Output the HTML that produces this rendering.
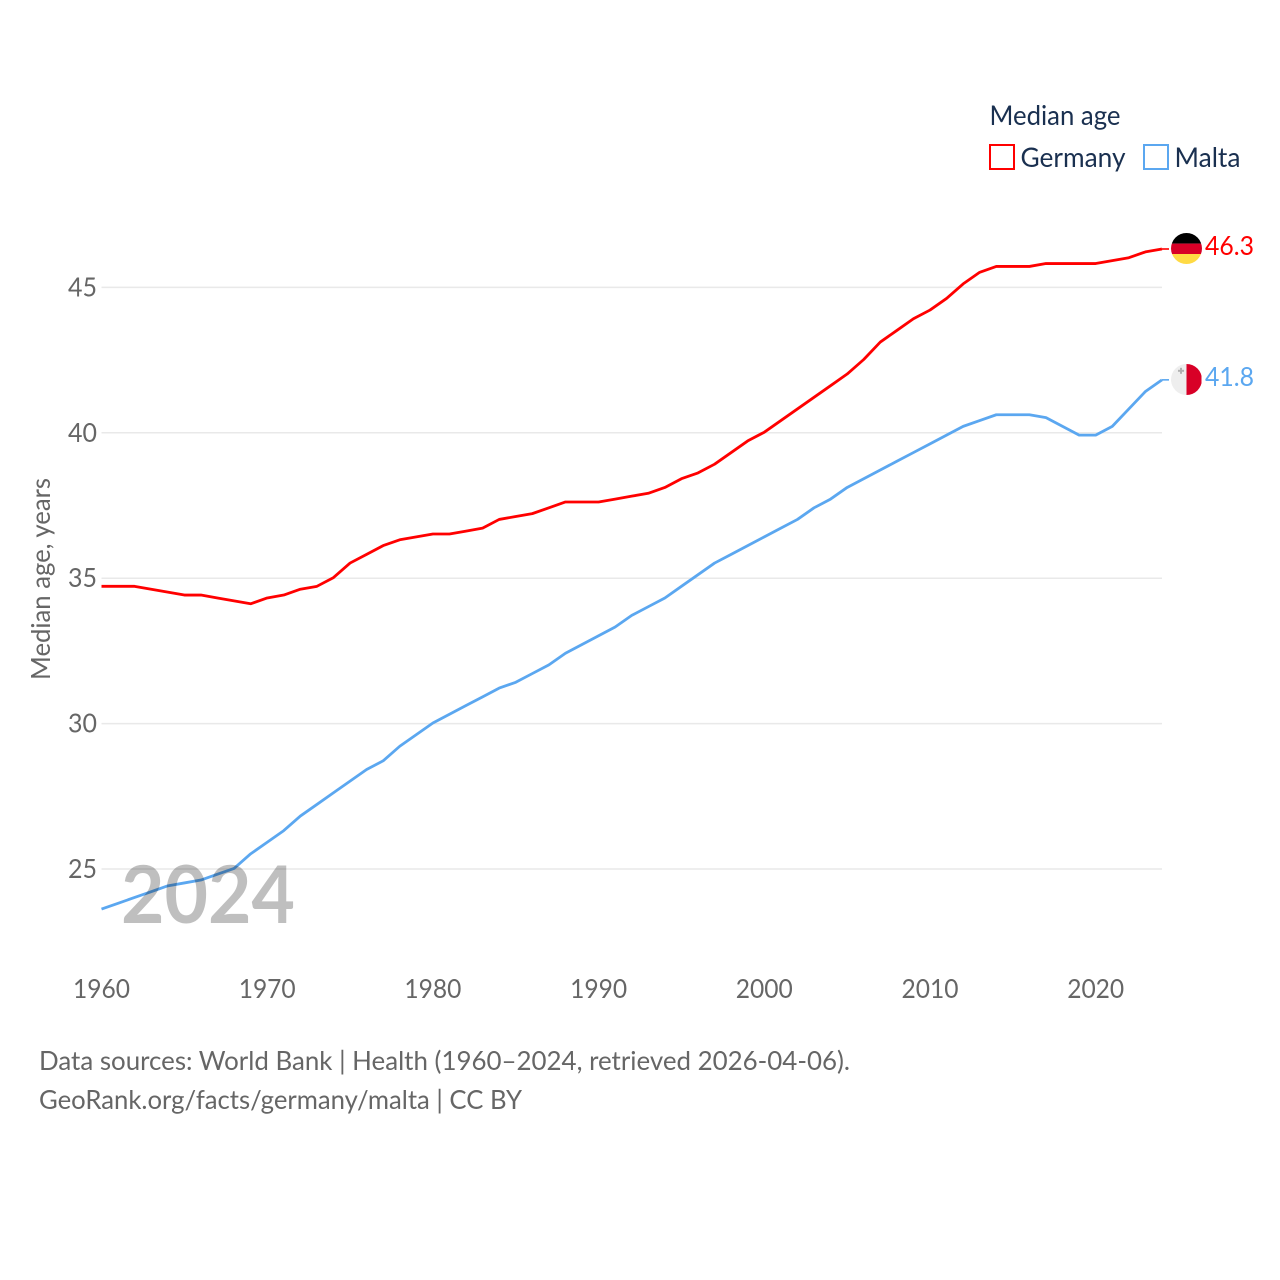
<!DOCTYPE html>
<html lang="en">
<head>
<meta charset="utf-8">
<title>Median age: Germany and Malta</title>
<style>
html,body{margin:0;padding:0;background:#fff;width:1280px;height:1280px;overflow:hidden}
svg{display:block}
text{font-family:"Lato","Carlito","Liberation Sans",sans-serif}
</style>
</head>
<body>
<svg id="chart" xmlns="http://www.w3.org/2000/svg" width="1280" height="1280" viewBox="0 0 1280 1280">
  <rect x="0" y="0" width="1280" height="1280" fill="#fff"/>
  <defs>
    <clipPath id="clip-de"><circle cx="1186.5" cy="248.5" r="15.5"/></clipPath>
    <clipPath id="clip-mt"><circle cx="1186.5" cy="379.5" r="15.5"/></clipPath>
  </defs>
  <g id="grid"></g>
  <g id="y-ticks"></g>
  <g id="x-ticks"></g>
  <text transform="translate(50,579) rotate(-90)" text-anchor="middle" font-size="26.5" fill="#666" textLength="202" lengthAdjust="spacingAndGlyphs">Median age, years</text>
  <g transform="translate(0,-0.6)">
    <polyline id="line-germany" fill="none" stroke="#ff0000" stroke-width="2.8" stroke-linejoin="round"/>
    <polyline id="line-malta" fill="none" stroke="#5ba7f0" stroke-width="2.8" stroke-linejoin="round"/>
    <line id="tail-germany" stroke="#ff0000" stroke-width="1.6"/>
    <line id="tail-malta" stroke="#5ba7f0" stroke-width="1.6"/>
  </g>
  <text x="121" y="923" font-size="80" font-weight="700" fill="#000" fill-opacity="0.25" textLength="174" lengthAdjust="spacingAndGlyphs">2024</text>

  <g clip-path="url(#clip-de)">
    <rect x="1171" y="233" width="31" height="10.6" fill="#000"/>
    <rect x="1171" y="243.6" width="31" height="10.4" fill="#d80027"/>
    <rect x="1171" y="254" width="31" height="11" fill="#ffda44"/>
  </g>
  <g clip-path="url(#clip-mt)">
    <rect x="1171" y="364" width="15.5" height="31" fill="#eeeeee"/>
    <rect x="1186.5" y="364" width="15" height="31" fill="#d80027"/>
    <rect x="1178" y="369.8" width="6" height="2" fill="#b0b0b0"/>
    <rect x="1180" y="367.8" width="2" height="6" fill="#b0b0b0"/>
  </g>
  <text id="value-germany" x="1205" y="255" font-size="26.5" fill="#ff0000" textLength="49" lengthAdjust="spacingAndGlyphs"></text>
  <text id="value-malta" x="1205" y="386" font-size="26.5" fill="#5ba7f0" textLength="49" lengthAdjust="spacingAndGlyphs"></text>

  <text x="989.5" y="125" font-size="27" fill="#1a3050" textLength="131" lengthAdjust="spacingAndGlyphs">Median age</text>
  <rect x="990" y="145" width="24" height="24" fill="#fff" stroke="#ff0000" stroke-width="2"/>
  <text x="1020.5" y="167" font-size="27" fill="#1a3050" textLength="105" lengthAdjust="spacingAndGlyphs">Germany</text>
  <rect x="1144" y="145" width="24" height="24" fill="#fff" stroke="#5ba7f0" stroke-width="2"/>
  <text x="1174.5" y="167" font-size="27" fill="#1a3050" textLength="66" lengthAdjust="spacingAndGlyphs">Malta</text>

  <text x="39" y="1070" font-size="26.5" fill="#666" textLength="811" lengthAdjust="spacingAndGlyphs">Data sources: World Bank | Health (1960–2024, retrieved 2026-04-06).</text>
  <text x="39" y="1109" font-size="26.5" fill="#666" textLength="483" lengthAdjust="spacingAndGlyphs">GeoRank.org/facts/germany/malta | CC BY</text>
</svg>
<script>
const startYear = 1960;
const germanyValues = [34.7,34.7,34.7,34.6,34.5,34.4,34.4,34.3,34.2,34.1,34.3,34.4,34.6,34.7,35.0,35.5,35.8,36.1,36.3,36.4,36.5,36.5,36.6,36.7,37.0,37.1,37.2,37.4,37.6,37.6,37.6,37.7,37.8,37.9,38.1,38.4,38.6,38.9,39.3,39.7,40.0,40.4,40.8,41.2,41.6,42.0,42.5,43.1,43.5,43.9,44.2,44.6,45.1,45.5,45.7,45.7,45.7,45.8,45.8,45.8,45.8,45.9,46.0,46.2,46.3];
const maltaValues = [23.6,23.8,24.0,24.2,24.4,24.5,24.6,24.8,25.0,25.5,25.9,26.3,26.8,27.2,27.6,28.0,28.4,28.7,29.2,29.6,30.0,30.3,30.6,30.9,31.2,31.4,31.7,32.0,32.4,32.7,33.0,33.3,33.7,34.0,34.3,34.7,35.1,35.5,35.8,36.1,36.4,36.7,37.0,37.4,37.7,38.1,38.4,38.7,39.0,39.3,39.6,39.9,40.2,40.4,40.6,40.6,40.6,40.5,40.2,39.9,39.9,40.2,40.8,41.4,41.8];
const yTickValues = [25,30,35,40,45];
const xTickValues = [1960,1970,1980,1990,2000,2010,2020];

const NS = 'http://www.w3.org/2000/svg';
function xScale(year){ return 101.5 + (year - 1960) * 16.57; }
function yScale(v){ return 869 - (v - 25) * 29.08; }

function pointsFor(values){
  return values.map(function(v,i){ return xScale(startYear + i).toFixed(2) + ',' + yScale(v).toFixed(2); }).join(' ');
}
document.getElementById('line-germany').setAttribute('points', pointsFor(germanyValues));
document.getElementById('line-malta').setAttribute('points', pointsFor(maltaValues));

function setTail(id, values){
  const tail = document.getElementById(id);
  const last = yScale(values[values.length - 1]);
  tail.setAttribute('x1', xScale(2024));
  tail.setAttribute('x2', 1169);
  tail.setAttribute('y1', last);
  tail.setAttribute('y2', last);
}
setTail('tail-germany', germanyValues);
setTail('tail-malta', maltaValues);

const gridGroup = document.getElementById('grid');
const yGroup = document.getElementById('y-ticks');
yTickValues.forEach(function(v){
  const line = document.createElementNS(NS,'line');
  
  
  line.setAttribute('x1', xScale(1960));
  line.setAttribute('x2', xScale(2024));
  line.setAttribute('y1', yScale(v));
  line.setAttribute('y2', yScale(v));
  line.setAttribute('stroke', '#e9e9e9');
  line.setAttribute('stroke-width', '1.5');
  gridGroup.appendChild(line);
  const t = document.createElementNS(NS,'text');
  
  
  t.setAttribute('x', 97);
  t.setAttribute('y', yScale(v) + 9);
  t.setAttribute('text-anchor', 'end');
  t.setAttribute('font-size', '26.5');
  t.setAttribute('fill', '#666');
  t.setAttribute('textLength', '29');
  t.setAttribute('lengthAdjust', 'spacingAndGlyphs');
  t.textContent = v;
  yGroup.appendChild(t);
});

const xGroup = document.getElementById('x-ticks');
xTickValues.forEach(function(y){
  const t = document.createElementNS(NS,'text');
  
  
  t.setAttribute('x', xScale(y));
  t.setAttribute('y', 998);
  t.setAttribute('text-anchor', 'middle');
  t.setAttribute('font-size', '26.5');
  t.setAttribute('fill', '#666');
  t.setAttribute('textLength', '57');
  t.setAttribute('lengthAdjust', 'spacingAndGlyphs');
  t.textContent = y;
  xGroup.appendChild(t);
});

document.getElementById('value-germany').textContent = germanyValues[germanyValues.length - 1].toFixed(1);
document.getElementById('value-malta').textContent = maltaValues[maltaValues.length - 1].toFixed(1);
</script>
</body>
</html>
